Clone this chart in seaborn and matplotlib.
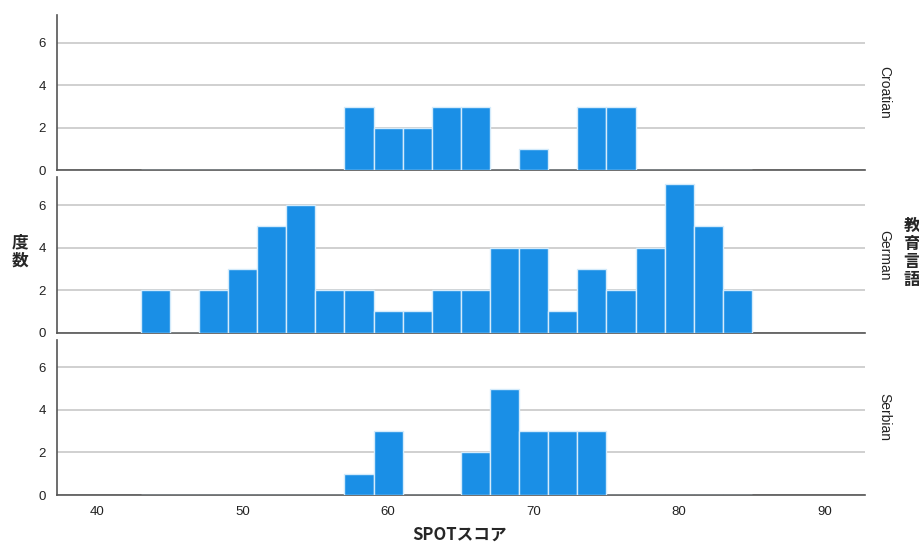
import pandas as pd
import matplotlib
matplotlib.use("Agg")
import matplotlib.pyplot as plt
import seaborn as sns

# 教育言語ごとの度数（ビン幅2、ビン中心）
languages = ['Croatian', 'German', 'Serbian']
croatian_centers = [58, 60, 62, 64, 66, 70, 74, 76]
croatian_counts = [3, 2, 2, 3, 3, 1, 3, 3]
german_centers = [44, 48, 50, 52, 54, 56, 58, 60, 62, 64, 66, 68, 70, 72, 74, 76, 78, 80, 82, 84]
german_counts = [2, 2, 3, 5, 6, 2, 2, 1, 1, 2, 2, 4, 4, 1, 3, 2, 4, 7, 5, 2]
serbian_centers = [58, 60, 66, 68, 70, 72, 74]
serbian_counts = [1, 3, 2, 5, 3, 3, 3]
x_ticks = [40, 50, 60, 70, 80, 90]
y_ticks = [0, 2, 4, 6]

df = pd.concat([
    pd.DataFrame({'教育言語': 'Croatian', 'score': croatian_centers, 'n': croatian_counts}),
    pd.DataFrame({'教育言語': 'German', 'score': german_centers, 'n': german_counts}),
    pd.DataFrame({'教育言語': 'Serbian', 'score': serbian_centers, 'n': serbian_counts}),
])

sns.set_style('white')
plt.rcParams['font.family'] = ['Liberation Sans', 'Noto Sans CJK JP', 'DejaVu Sans']
cjk = ['Noto Sans CJK JP', 'DejaVu Sans']

bar_color = '#1a8fe6'

g = sns.FacetGrid(df, row='教育言語', row_order=languages, sharex=True, sharey=True,
                  height=1.8, aspect=5)
g.map_dataframe(sns.histplot, x='score', weights='n', binwidth=2, binrange=(43, 85),
                color=bar_color, alpha=1, edgecolor='#d4ebfb', linewidth=1, zorder=3)
g.figure.set_size_inches(9.2, 5.46)
g.figure.subplots_adjust(left=0.062, right=0.940, top=0.9725, bottom=0.0934, hspace=0.045)

for ax, lang in zip(g.axes.flat, languages):
    ax.set_title('')
    ax.set_xlim(37.25, 92.75)
    ax.set_ylim(0, 7.3)
    ax.set_yticks(y_ticks)
    ax.set_xticks(x_ticks)
    ax.set_xlabel('')
    ax.set_ylabel('')
    ax.grid(axis='y', color='#c8c8c8', linewidth=1.2, zorder=0)
    ax.set_axisbelow(True)
    for s in ['top', 'right']:
        ax.spines[s].set_visible(False)
    for s in ['left', 'bottom']:
        ax.spines[s].set_color('#555555')
        ax.spines[s].set_linewidth(1.2)
    ax.tick_params(axis='both', length=0, labelsize=9.5, colors='#222222', pad=8)
    ax.text(1.015, 0.5, lang, transform=ax.transAxes, rotation=270,
            ha='left', va='center', fontsize=10, color='#222222')

fig = g.figure
fig.text(0.022, 0.54, '度\n数', ha='center', va='center', fontsize=12,
         fontweight='bold', linespacing=1.0, family=cjk)
fig.text(0.991, 0.537, '教\n育\n言\n語', ha='center', va='center', fontsize=12,
         fontweight='bold', linespacing=1.0, family=cjk)
fig.text(0.5, 0.02, 'SPOTスコア', ha='center', va='center', fontsize=12,
         fontweight='bold', family=cjk)

fig.savefig('out.png', dpi=100)
